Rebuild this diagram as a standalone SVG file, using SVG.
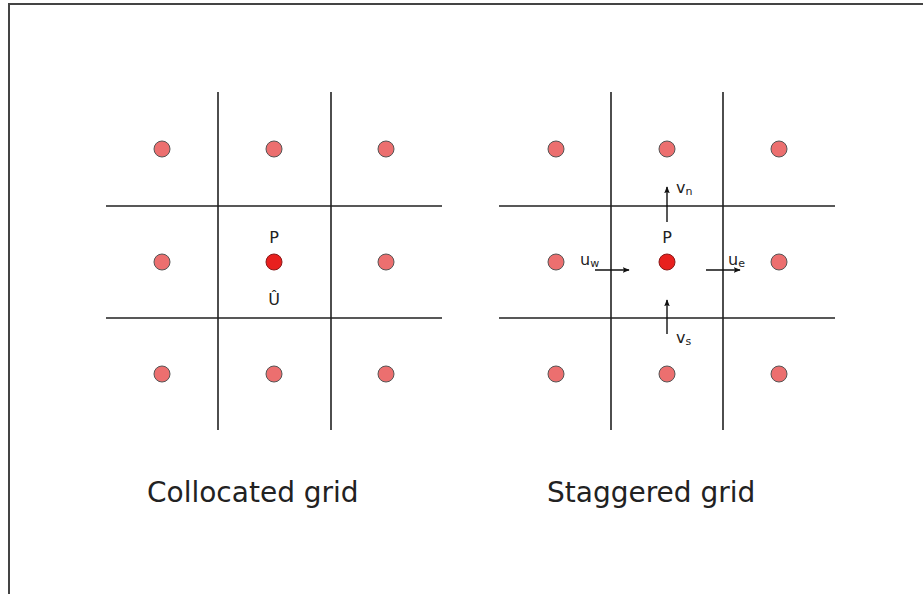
<svg xmlns="http://www.w3.org/2000/svg" width="923" height="594" viewBox="0 0 923 594">
  <defs>
    <style>
      .frame { stroke: #444; stroke-width: 2; fill: none; }
      .grid { stroke: #222; stroke-width: 1.6; fill: none; }
      .dot { fill: #ec6f6f; stroke: #555; stroke-width: 1; }
      .center { fill: #e8201e; stroke: #8a1a1a; stroke-width: 1; }
      .arrow { stroke: #111; stroke-width: 1.4; fill: none; marker-end: url(#head); }
      .lbl { font-family: "DejaVu Sans", sans-serif; font-size: 16px; fill: #222; }
      .sub { font-family: "DejaVu Sans", sans-serif; font-size: 11px; fill: #222; }
      .title { font-family: "DejaVu Sans", sans-serif; font-size: 28px; fill: #222; }
    </style>
    <marker id="head" viewBox="0 0 10 10" refX="9" refY="5" markerWidth="7" markerHeight="7" orient="auto" markerUnits="userSpaceOnUse">
      <path d="M0,1 L10,5 L0,9 L2,5 Z" fill="#111"/>
    </marker>
  </defs>

  <rect width="923" height="594" fill="#fff"/>
  <!-- frame edges -->
  <path class="frame" d="M9,594 V4 H923"/>

  <!-- collocated grid -->
  <g id="collocated-lines">
    <path class="grid" d="M218,92 V430 M331,92 V430 M106,206 H442 M106,318 H442"/>
  </g>
  <g id="collocated-nodes">
    <circle class="dot" cx="162" cy="149" r="8"/>
    <circle class="dot" cx="274" cy="149" r="8"/>
    <circle class="dot" cx="386" cy="149" r="8"/>
    <circle class="dot" cx="162" cy="262" r="8"/>
    <circle class="dot" cx="386" cy="262" r="8"/>
    <circle class="dot" cx="162" cy="374" r="8"/>
    <circle class="dot" cx="274" cy="374" r="8"/>
    <circle class="dot" cx="386" cy="374" r="8"/>
  </g>
  <g id="collocated-P">
    <circle class="center" cx="274" cy="262" r="8"/>
    <text class="lbl" x="274" y="243" text-anchor="middle">P</text>
    <text class="lbl" x="274" y="305" text-anchor="middle">Û</text>
  </g>
  <text class="title" x="147" y="502">Collocated grid</text>

  <!-- staggered grid -->
  <g id="staggered-lines">
    <path class="grid" d="M611,92 V430 M723,92 V430 M499,206 H835 M499,318 H835"/>
  </g>
  <g id="staggered-nodes">
    <circle class="dot" cx="556" cy="149" r="8"/>
    <circle class="dot" cx="667" cy="149" r="8"/>
    <circle class="dot" cx="779" cy="149" r="8"/>
    <circle class="dot" cx="556" cy="262" r="8"/>
    <circle class="dot" cx="779" cy="262" r="8"/>
    <circle class="dot" cx="556" cy="374" r="8"/>
    <circle class="dot" cx="667" cy="374" r="8"/>
    <circle class="dot" cx="779" cy="374" r="8"/>
  </g>
  <g id="staggered-P">
    <circle class="center" cx="667" cy="262" r="8"/>
    <text class="lbl" x="667" y="243" text-anchor="middle">P</text>
  </g>

  <!-- face velocity arrows -->
  <g id="velocities">
    <path class="arrow" d="M667,222 V187"/>
    <path class="arrow" d="M667,334 V300"/>
    <path class="arrow" d="M595,270 H629"/>
    <path class="arrow" d="M706,270 H740"/>
  </g>
  <g id="velocity-labels">
    <text class="lbl" x="676" y="193">v<tspan class="sub" dy="2">n</tspan></text>
    <text class="lbl" x="676" y="343">v<tspan class="sub" dy="2">s</tspan></text>
    <text class="lbl" x="580" y="265">u<tspan class="sub" dy="2">w</tspan></text>
    <text class="lbl" x="728" y="265">u<tspan class="sub" dy="2">e</tspan></text>
  </g>
  <text class="title" x="547" y="502">Staggered grid</text>
</svg>
